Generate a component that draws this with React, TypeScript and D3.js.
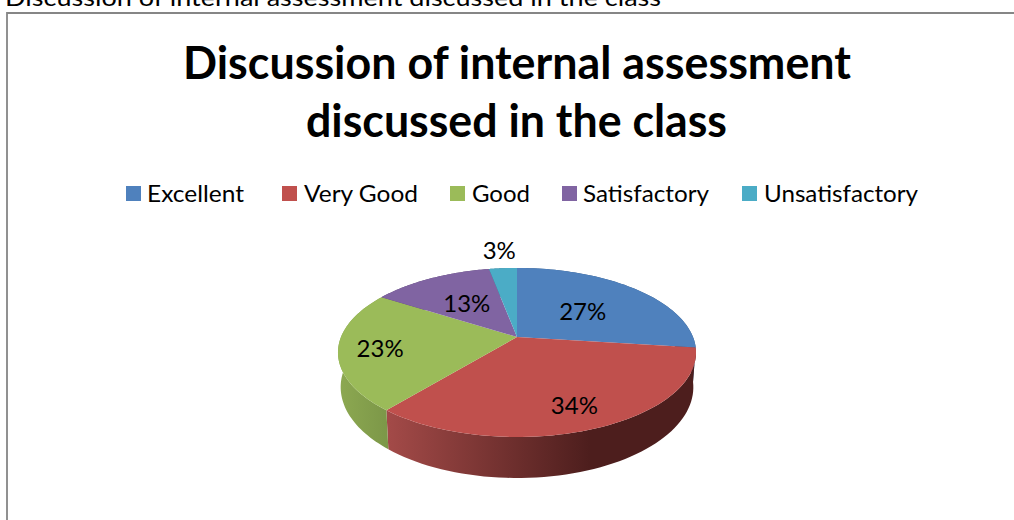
import React from "react";
import * as d3 from "d3";

const categories = ["Excellent", "Very Good", "Good", "Satisfactory", "Unsatisfactory"];
const values = [27, 34, 23, 13, 3];
const colors = ["#4f81bd", "#c0504d", "#9bbb59", "#8064a2", "#4bacc6"];
const labelRadii = [0.53, 0.77, 0.77, 0.55, 1.33];
const titleLines = ["Discussion of internal assessment", "discussed in the class"];
const captionText = "Discussion of internal assessment discussed in the class";

const legendLayout = [
  { square: 126, text: 147, width: 97 },
  { square: 282, text: 304, width: 114 },
  { square: 450, text: 472, width: 58 },
  { square: 562, text: 583, width: 126 },
  { square: 742, text: 764, width: 154 },
];

const FONT = "Lato, 'Open Sans', sans-serif";
const CX = 517, CY = 337, RX = 176, RY = 81.7, PERSP = 0.183, DEPTH = 33.5, BASE_SCALE = 0.985;

const project = (angle: number, r = 1): [number, number] => {
  const x = Math.sin(angle) * r;
  const y = -Math.cos(angle) * r;
  const w = 1 - PERSP * y;
  return [CX + (RX * x) / w, CY + (RY * y) / w];
};
const projectBase = (angle: number): [number, number] => {
  const y = -Math.cos(angle);
  const w = 1 - PERSP * y;
  const [px, py] = project(angle);
  return [CX + (px - CX) * BASE_SCALE, py + DEPTH / w];
};
const samples = (a0: number, a1: number) =>
  d3.range(0, 61).map((i) => a0 + ((a1 - a0) * i) / 60);

const line = d3.line<[number, number]>();

export default function App() {
  const arcs = d3.pie<number>().sort(null)(values);

  return (
    <svg
      width={1014}
      height={520}
      viewBox="0 0 1014 520"
      style={{ position: "fixed", left: 0, top: 0, display: "block", background: "#fff" }}
      fontFamily={FONT}
    >
      <defs>
        <linearGradient id="sideRed" gradientUnits="userSpaceOnUse" x1={388} x2={590} y1={0} y2={0}>
          <stop offset="0" stopColor="#a34a48" />
          <stop offset="1" stopColor="#4d1e1d" />
        </linearGradient>
        <linearGradient id="sideGreen" gradientUnits="userSpaceOnUse" x1={340} x2={388} y1={0} y2={0}>
          <stop offset="0" stopColor="#8ca851" />
          <stop offset="1" stopColor="#7c9748" />
        </linearGradient>
      </defs>

      <text x={5} y={6} fontSize={24} fill="#000" textLength={656} lengthAdjust="spacingAndGlyphs">
        {captionText}
      </text>
      <path d="M7 520V13H1014" fill="none" stroke="#868686" strokeWidth={1.8} />

      <text x={183} y={79} fontSize={45} fontWeight={700} fill="#000" textLength={668} lengthAdjust="spacingAndGlyphs">
        {titleLines[0]}
      </text>
      <text x={306} y={137} fontSize={45} fontWeight={700} fill="#000" textLength={421} lengthAdjust="spacingAndGlyphs">
        {titleLines[1]}
      </text>

      {categories.map((c, i) => (
        <g key={c}>
          <rect x={legendLayout[i].square} y={186} width={15} height={15} fill={colors[i]} />
          <text x={legendLayout[i].text} y={202} fontSize={24} fill="#000" textLength={legendLayout[i].width} lengthAdjust="spacingAndGlyphs">
            {c}
          </text>
        </g>
      ))}

      {arcs.map((a, i) => {
        const pts = samples(a.startAngle, a.endAngle);
        const d = line([...pts.map((t) => project(t)), ...pts.slice().reverse().map((t) => projectBase(t))]);
        const fill = i === 1 ? "url(#sideRed)" : i === 2 ? "url(#sideGreen)" : d3.color(colors[i])!.darker(1).toString();
        return <path key={"side" + i} d={d!} fill={fill} />;
      })}

      {arcs.map((a, i) => {
        const pts = samples(a.startAngle, a.endAngle).map((t) => project(t));
        const d = line([[CX, CY], ...pts]) + "Z";
        return <path key={"top" + i} d={d} fill={colors[i]} />;
      })}

      {arcs.map((a, i) => {
        const [x, y] = project((a.startAngle + a.endAngle) / 2, labelRadii[i]);
        return (
          <text key={"lab" + i} x={x} y={y} fontSize={24} fill="#000" textAnchor="middle" dominantBaseline="central">
            {values[i]}%
          </text>
        );
      })}
    </svg>
  );
}
